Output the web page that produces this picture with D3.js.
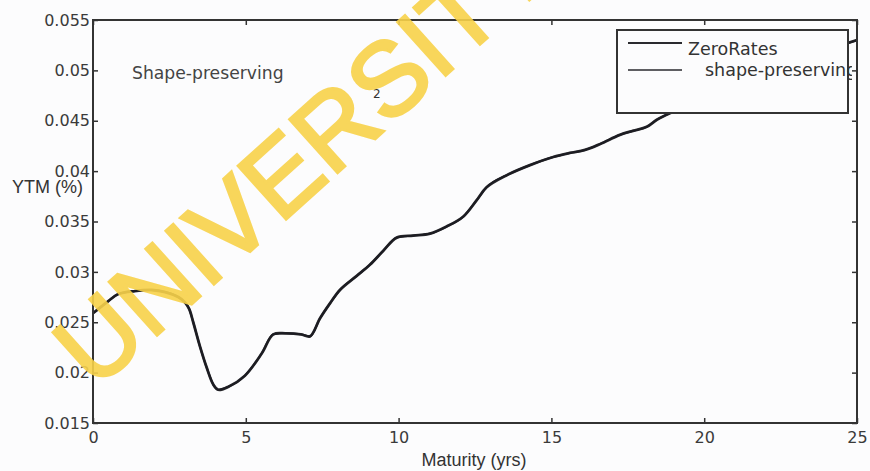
<!DOCTYPE html>
<html>
<head>
<meta charset="utf-8">
<script src="https://cdn.jsdelivr.net/npm/d3@7"></script>
<style>
  body { margin: 0; background: #fcfcfd; }
  svg { display: block; }
  .axis path { display: none; }
  .axis line { stroke: #333; stroke-width: 1.5; }
  .axis text { font-family: "DejaVu Sans", sans-serif; font-size: 16px; fill: #3a3a3a; }
</style>
</head>
<body>
<div id="chart"></div>
<script>
// maturities in years and the zero-rate curve
const maturity = [0, 0.25, 0.5, 0.83, 1.37, 1.92, 2.36, 2.79, 3.0, 3.15, 3.28, 3.5, 3.72, 3.94, 4.1,
    4.43, 4.97, 5.52, 5.9, 6.3, 6.8, 7.1, 7.43, 7.76, 8.08, 8.63, 9.06, 9.5, 9.94, 10.48, 11.03,
    11.57, 12.12, 12.55, 12.88, 13.54, 14.3, 15.06, 15.6, 16.1, 16.6, 17.24, 17.67, 18.12, 18.45,
    18.77, 19.5, 20.5, 21.5, 22.5, 23.5, 24.3, 25];
const zeroRates = [0.0259, 0.0265, 0.0271, 0.0278, 0.0281, 0.0282, 0.0280, 0.0275, 0.0270, 0.0263,
    0.0250, 0.0226, 0.0205, 0.0188, 0.0183, 0.0186, 0.0197, 0.0219, 0.0238, 0.0239, 0.0238, 0.0236,
    0.0254, 0.0269, 0.0282, 0.0296, 0.0307, 0.0321, 0.0334, 0.0336, 0.0338, 0.0345, 0.0355, 0.0371,
    0.0384, 0.0396, 0.0406, 0.0414, 0.0418, 0.0421, 0.0427, 0.0436, 0.0440, 0.0444, 0.0451, 0.0456,
    0.0466, 0.0478, 0.0490, 0.0502, 0.0514, 0.0523, 0.0530];

const xTicks = [0, 5, 10, 15, 20, 25];
const yTicks = [0.015, 0.02, 0.025, 0.03, 0.035, 0.04, 0.045, 0.05, 0.055];
const seriesNames = ["ZeroRates", "shape-preserving"];

const W = 870, H = 471;
const margin = {top: 20, right: 13, bottom: 48, left: 93};
const width = W - margin.left - margin.right;
const height = H - margin.top - margin.bottom;

const svg = d3.select("#chart").append("svg")
    .attr("width", W)
    .attr("height", H);

const g = svg.append("g")
    .attr("transform", `translate(${margin.left},${margin.top})`);

const x = d3.scaleLinear().domain([0, 25]).range([0, width]);
const y = d3.scaleLinear().domain([0.015, 0.055]).range([height, 0]);

// axes, matlab style: ticks pointing inwards on all four sides
g.append("g").attr("class", "axis")
    .attr("transform", `translate(0,${height})`)
    .call(d3.axisBottom(x).tickValues(xTicks).tickSizeInner(-5).tickSizeOuter(0).tickPadding(9));
g.append("g").attr("class", "axis")
    .call(d3.axisTop(x).tickValues(xTicks).tickSizeInner(-5).tickSizeOuter(0).tickFormat(""));
g.append("g").attr("class", "axis")
    .call(d3.axisLeft(y).tickValues(yTicks).tickSizeInner(-5).tickSizeOuter(0).tickPadding(3)
        .tickFormat(d => String(d)));
g.append("g").attr("class", "axis")
    .attr("transform", `translate(${width},0)`)
    .call(d3.axisRight(y).tickValues(yTicks).tickSizeInner(-5).tickSizeOuter(0).tickFormat(""));

g.append("defs").append("clipPath").attr("id", "plotclip")
    .append("rect").attr("width", width).attr("height", height);

const pts = maturity.map((m, i) => ({m: m, r: zeroRates[i]}));

const rawLine = d3.line().x(d => x(d.m)).y(d => y(d.r)).curve(d3.curveCatmullRom.alpha(0.5));
const pchipLine = d3.line().x(d => x(d.m)).y(d => y(d.r)).curve(d3.curveMonotoneX);

g.append("path")
    .datum(pts)
    .attr("clip-path", "url(#plotclip)")
    .attr("d", rawLine)
    .attr("fill", "none")
    .attr("stroke", "#2a2a2e")
    .attr("stroke-width", 2.8)
    .attr("stroke-linejoin", "round");

g.append("path")
    .datum(pts)
    .attr("clip-path", "url(#plotclip)")
    .attr("d", pchipLine)
    .attr("fill", "none")
    .attr("stroke", "#1c1c22")
    .attr("stroke-width", 2);

// frame
g.append("rect")
    .attr("width", width)
    .attr("height", height)
    .attr("fill", "none")
    .attr("stroke", "#333")
    .attr("stroke-width", 2);

// annotation text
svg.append("text")
    .attr("x", 132).attr("y", 79)
    .attr("font-family", "DejaVu Sans, sans-serif")
    .attr("font-size", 17.2)
    .attr("fill", "#444")
    .text("Shape-preserving");

svg.append("text")
    .attr("x", 373).attr("y", 98)
    .attr("font-family", "DejaVu Sans, sans-serif")
    .attr("font-size", 12)
    .attr("fill", "#333")
    .text("2");

// legend
const legend = svg.append("g");
legend.append("rect")
    .attr("x", 617).attr("y", 30)
    .attr("width", 231).attr("height", 83)
    .attr("fill", "#fcfcfd")
    .attr("stroke", "#333")
    .attr("stroke-width", 2);

svg.append("defs").append("clipPath").attr("id", "legclip")
    .append("rect").attr("x", 600).attr("y", 25).attr("width", 252).attr("height", 95);

const legY = [43, 70];
const legTextX = [688, 705];
const legTextY = [55, 76];
seriesNames.forEach((name, i) => {
    legend.append("line")
        .attr("x1", 628).attr("x2", 682)
        .attr("y1", legY[i]).attr("y2", legY[i])
        .attr("stroke", "#2a2a2e")
        .attr("stroke-width", i === 0 ? 2 : 1.5);
    legend.append("text")
        .attr("x", legTextX[i]).attr("y", legTextY[i])
        .attr("clip-path", "url(#legclip)")
        .attr("font-family", "DejaVu Sans, sans-serif")
        .attr("font-size", 17.5)
        .attr("fill", "#333")
        .text(name);
});

// axis titles
svg.append("text")
    .attr("x", 12).attr("y", 193)
    .attr("font-family", "Liberation Sans, Arial, sans-serif")
    .attr("font-size", 18)
    .attr("fill", "#333")
    .text("YTM (%)");

svg.append("text")
    .attr("x", 474).attr("y", 466)
    .attr("text-anchor", "middle")
    .attr("font-family", "Liberation Sans, Arial, sans-serif")
    .attr("font-size", 18)
    .attr("fill", "#333")
    .text("Maturity (yrs)");

// scan watermark
svg.append("text")
    .attr("transform", "translate(95,391) rotate(-42)")
    .attr("font-family", "Liberation Sans, Arial, sans-serif")
    .attr("font-size", 104)
    .attr("fill", "#f8d24a")
    .attr("stroke", "#f8d24a")
    .attr("stroke-width", 3)
    .attr("opacity", 0.9)
    .text("UNIVERSITY");
</script>
</body>
</html>
